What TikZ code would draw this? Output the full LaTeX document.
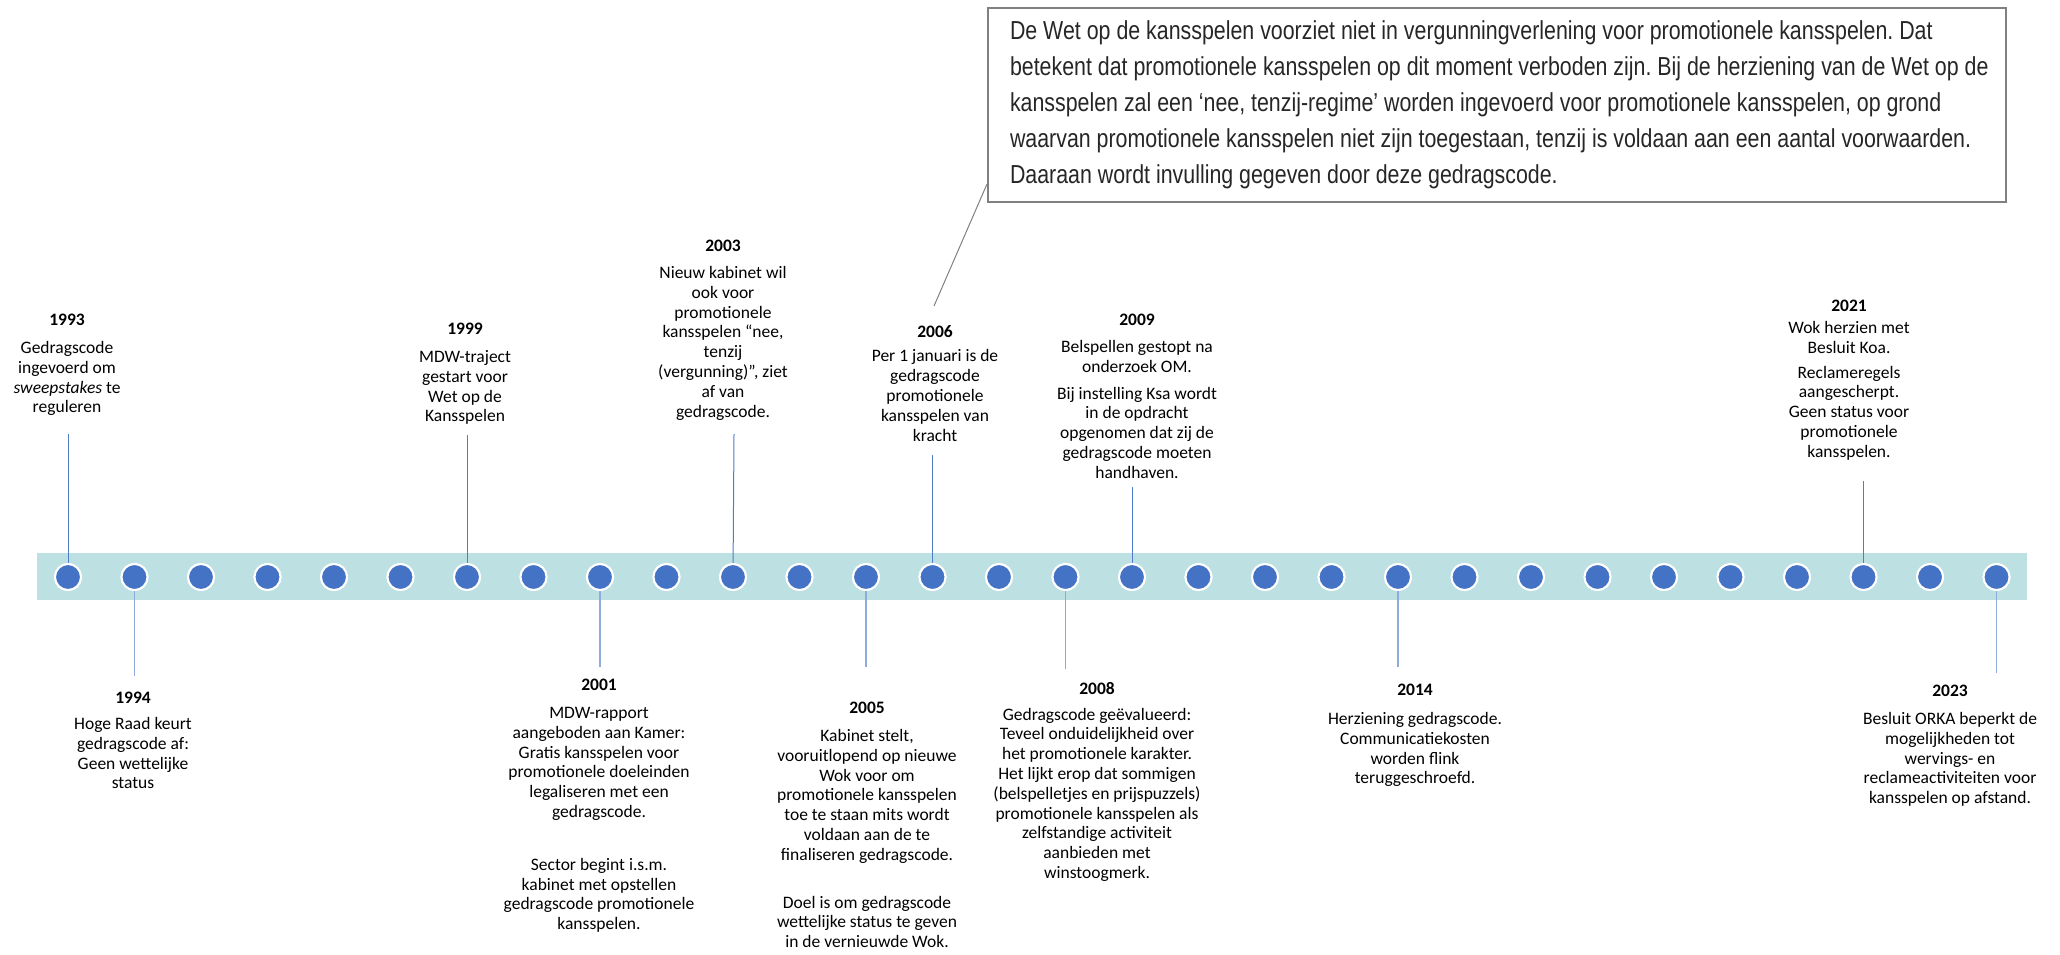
\documentclass[tikz,border=0pt]{standalone}
\usepackage{fontspec}
\setmainfont{Carlito}
\newfontfamily\boxfont[FakeStretch=0.822]{Liberation Sans}
\definecolor{band}{RGB}{189,224,227}
\definecolor{dotblue}{RGB}{68,114,196}
\definecolor{lineup}{RGB}{80,125,200}
\definecolor{linedown}{RGB}{143,170,220}
\definecolor{boxgray}{RGB}{128,128,128}
\definecolor{boxtext}{RGB}{38,38,38}
\newcommand{\bx}{\hspace*{7pt}}
\frenchspacing
\begin{document}
\begin{tikzpicture}[x=1pt,y=-1pt,
  dot/.style={circle,fill=dotblue,draw=white,line width=2pt,minimum size=26pt,inner sep=0pt},
  lab/.style={align=center,inner sep=0pt,anchor=north,font=\fontsize{17.5}{19.8}\selectfont},
  up/.style={draw=lineup,line width=1pt},
  down/.style={draw=linedown,line width=1.5pt},
  callout/.style={draw=boxgray,line width=2pt}]
\useasboundingbox (0,0) rectangle (2060,954);
% band
\fill[band] (37,553) rectangle (2027,600);
% dots
\foreach \i in {0,...,29}{\node[dot] (c\i) at ({68+66.5*\i},577) {};}
% connector ends
\coordinate (t1993) at (68,434);
\coordinate (t1999) at (467,435);
\coordinate (t2003) at (734,434);
\coordinate (t2006) at (932.5,455);
\coordinate (t2009) at (1132,487);
\coordinate (t2021) at (1863.5,481);
\coordinate (b1994) at (134.5,676);
\coordinate (b2001) at (600,667);
\coordinate (b2005) at (866,667);
\coordinate (b2008) at (1065.5,669);
\coordinate (b2014) at (1398,667);
\coordinate (b2023) at (1996.5,673);
\draw[up] (c0.center) -- (t1993);
\draw[up] (c6.center) -- (t1999);
\draw[up] (c10.center) -- (t2003);
\draw[up] (c13.center) -- (t2006);
\draw[up] (c16.center) -- (t2009);
\draw[up] (c27.center) -- (t2021);
\draw[down] (c1.south) -- (b1994);
\draw[down] (c8.south) -- (b2001);
\draw[down] (c12.south) -- (b2005);
\draw[down] (c15.south) -- (b2008);
\draw[down] (c20.south) -- (b2014);
\draw[down] (c29.south) -- (b2023);
% redraw dots over connectors
\foreach \i in {0,...,29}{\node[dot] at (c\i) {};}
% top labels
\node[lab] (l1993) at (67,314) {\textbf{1993}\\[8pt]Gedragscode\\ingevoerd om\\\textit{sweepstakes} te\\reguleren};
\node[lab] (l1999) at (465,323) {\textbf{1999}\\[8pt]MDW-traject\\gestart voor\\Wet op de\\Kansspelen};
\node[lab] (l2003) at (723,240) {\textbf{2003}\\[7pt]Nieuw kabinet wil\\ook voor\\promotionele\\kansspelen “nee,\\tenzij\\(vergunning)”, ziet\\af van\\gedragscode.};
\node[lab] (l2006) at (935,325) {\textbf{2006}\\[5pt]Per 1 januari is de\\gedragscode\\promotionele\\kansspelen van\\kracht};
\node[lab] (l2009) at (1137,314) {\textbf{2009}\\[7pt]Belspellen gestopt na\\onderzoek OM.\\[7pt]Bij instelling Ksa wordt\\in de opdracht\\opgenomen dat zij de\\gedragscode moeten\\handhaven.};
\node[lab] (l2021) at (1849,300) {\textbf{2021}\\[2pt]Wok herzien met\\Besluit Koa.\\[5pt]Reclameregels\\aangescherpt.\\Geen status voor\\promotionele\\kansspelen.};
% bottom labels
\node[lab] (l1994) at (133,692) {\textbf{1994}\\[6pt]Hoge Raad keurt\\gedragscode af:\\Geen wettelijke\\status};
\node[lab] (l2001) at (599,679) {\textbf{2001}\\[8pt]MDW-rapport\\aangeboden aan Kamer:\\Gratis kansspelen voor\\promotionele doeleinden\\legaliseren met een\\gedragscode.\\[33pt]Sector begint i.s.m.\\kabinet met opstellen\\gedragscode promotionele\\kansspelen.};
\node[lab] (l2005) at (867,702) {\textbf{2005}\\[8pt]Kabinet stelt,\\vooruitlopend op nieuwe\\Wok voor om\\promotionele kansspelen\\toe te staan mits wordt\\voldaan aan de te\\finaliseren gedragscode.\\[28pt]Doel is om gedragscode\\wettelijke status te geven\\in de vernieuwde Wok.};
\node[lab] (l2008) at (1097,682) {\textbf{2008}\\[6pt]Gedragscode geëvalueerd:\\Teveel onduidelijkheid over\\het promotionele karakter.\\Het lijkt erop dat sommigen\\(belspelletjes en prijspuzzels)\\promotionele kansspelen als\\zelfstandige activiteit\\aanbieden met\\winstoogmerk.};
\node[lab] (l2014) at (1415,684) {\textbf{2014}\\[9pt]Herziening gedragscode.\\Communicatiekosten\\worden flink\\teruggeschroefd.};
\node[lab] (l2023) at (1950,685) {\textbf{2023}\\[8pt]Besluit ORKA beperkt de\\mogelijkheden tot\\wervings- en\\reclameactiviteiten voor\\kansspelen op afstand.};
% callout box
\node[callout,anchor=north west,minimum width=1018pt,minimum height=194pt,inner xsep=15pt,inner ysep=0pt,text width=988pt,align=flush left,text=boxtext,font=\boxfont\fontsize{26}{36}\selectfont] (box) at (987,7) {\bx De Wet op de kansspelen voorziet niet in vergunningverlening voor promotionele kansspelen. Dat\\\bx betekent dat promotionele kansspelen op dit moment verboden zijn. Bij de herziening van de Wet op de\\\bx kansspelen zal een ‘nee, tenzij-regime’ worden ingevoerd voor promotionele kansspelen, op grond\\\bx waarvan promotionele kansspelen niet zijn toegestaan, tenzij is voldaan aan een aantal voorwaarden.\\\bx Daaraan wordt invulling gegeven door deze gedragscode.};
\coordinate (bp) at (987,184);
\coordinate (pe) at (934,306);
\draw[draw=boxgray,line width=1pt] (bp) -- (pe);
\end{tikzpicture}
\end{document}
